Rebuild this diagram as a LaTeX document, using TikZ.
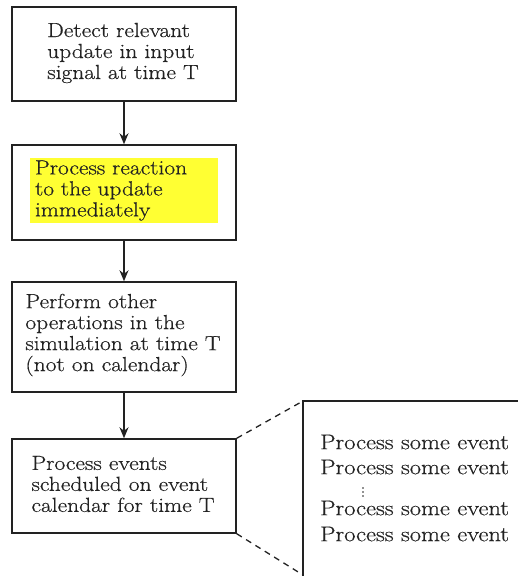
\documentclass[tikz,border=0pt]{standalone}
\usepackage{fontspec}
\setmainfont{Latin Modern Roman}[FakeStretch=1.15, FakeBold=0.5]
\usetikzlibrary{arrows.meta}
\definecolor{ink}{HTML}{222222}
\definecolor{hl}{HTML}{FFFF33}
\tikzset{
  flowbox/.style={draw=ink, line width=1.5pt, minimum width=224pt, inner sep=0pt, text=ink},
  boxtext/.style={align=left, text=ink, inner sep=0pt, font=\fontsize{20.4}{21}\selectfont},
  evtext/.style={anchor=west, text=ink, inner sep=0pt, font=\fontsize{21.3}{22}\selectfont},
  flowarrow/.style={draw=ink, line width=1.5pt, -{Stealth[length=11pt, width=9pt]}},
  zoomline/.style={draw=ink, line width=1.3pt, dash pattern=on 6pt off 5pt},
  evdot/.style={fill=ink, circle, inner sep=0pt, minimum size=1.8pt},
}
\begin{document}
\begin{tikzpicture}[x=1pt, y=1pt]
\useasboundingbox (0,0) rectangle (518,-576);
\clip (0,0) rectangle (518,-576);
% boxes
\node[flowbox, minimum height=94pt] (b1) at (124,-54) {};
\node[boxtext] (t1) at (123,-53) {Detect relevant\\update in input\\signal at time T};
\node[flowbox, minimum height=95pt] (b2) at (124,-192.5) {};
\node[fill=hl, minimum width=188pt, minimum height=65pt, text width=178pt, inner xsep=5pt, inner ysep=0pt, align=left, text=ink, font=\fontsize{20.4}{21}\selectfont] (t2) at (124,-190.5) {Process reaction\\to the update\\immediately};
\node[flowbox, minimum height=110pt] (b3) at (124,-337) {};
\node[boxtext] (t3) at (123,-335) {Perform other\\operations in the\\simulation at time T\\(not on calendar)};
\node[flowbox, minimum height=94pt] (b4) at (124,-486) {};
\node[boxtext] (t4) at (123,-484) {Process events\\scheduled on event\\calendar for time T};
% arrows
\draw[flowarrow] (b1.south) -- (b2.north);
\draw[flowarrow] (b2.south) -- (b3.north);
\draw[flowarrow] (b3.south) -- (b4.north);
% zoomed calendar box
\coordinate (zt) at (303,-401);
\coordinate (zb) at (303,-575);
\draw[draw=ink, line width=1.5pt] (530,-401) -- (zt) -- (303,-590);
\draw[zoomline] (b4.north east) -- (zt);
\draw[zoomline] (b4.south east) -- (zb);
\node[evtext] (e1) at (320,-442) {Process some event};
\node[evtext] (e2) at (320,-467) {Process some event};
\node[evdot] (d1) at (363,-488) {};
\node[evdot] (d2) at (363,-492) {};
\node[evdot] (d3) at (363,-496) {};
\node[evtext] (e3) at (320,-508) {Process some event};
\node[evtext] (e4) at (320,-534) {Process some event};
\end{tikzpicture}
\end{document}
